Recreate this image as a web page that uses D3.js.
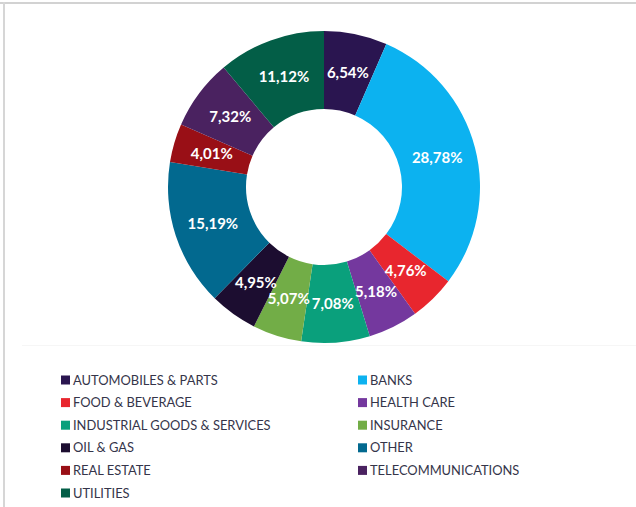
<!DOCTYPE html>
<html>
<head>
<meta charset="utf-8">
<script src="https://cdn.jsdelivr.net/npm/d3@7"></script>
<style>
  html, body { margin: 0; padding: 0; background: #ffffff; }
  svg { display: block; }
</style>
</head>
<body>
<svg id="chart" width="636" height="507"></svg>
<script>
// Sector weights (percent), in clockwise order starting at 12 o'clock
const sectors = [
  "AUTOMOBILES & PARTS", "BANKS", "FOOD & BEVERAGE", "HEALTH CARE",
  "INDUSTRIAL GOODS & SERVICES", "INSURANCE", "OIL & GAS", "OTHER",
  "REAL ESTATE", "TELECOMMUNICATIONS", "UTILITIES"
];
const weights = [6.54, 28.78, 4.76, 5.18, 7.08, 5.07, 4.95, 15.19, 4.01, 7.32, 11.12];
const sectorColors = [
  "#2a1550", "#0cb2f0", "#e8262e", "#74389e",
  "#0aa07c", "#72ad47", "#1c0d30", "#02698f",
  "#990f16", "#4a2260", "#035e47"
];

const svg = d3.select("#chart");
const W = 636, H = 507;

// Frame lines
svg.append("rect").attr("x", 0).attr("y", 2).attr("width", W).attr("height", 2).attr("fill", "#d2d2d2");
svg.append("rect").attr("x", 3).attr("y", 2).attr("width", 2).attr("height", H).attr("fill", "#d6d6d6");
svg.append("line").attr("x1", 22).attr("x2", W).attr("y1", 345.5).attr("y2", 345.5)
  .attr("stroke", "#f6f6f6").attr("stroke-width", 1);

// Donut
const cx = 324, cy = 187, rOuter = 156, rInner = 78;
const data = sectors.map((name, i) => ({ name, value: weights[i], color: sectorColors[i] }));

const pie = d3.pie().value(d => d.value).sort(null);
const arcs = pie(data);
const arc = d3.arc().innerRadius(rInner).outerRadius(rOuter);
const labelArc = d3.arc().innerRadius((rInner + rOuter) / 2).outerRadius((rInner + rOuter) / 2);

const g = svg.append("g").attr("transform", `translate(${cx},${cy})`);
g.selectAll("path.slice")
  .data(arcs)
  .join("path")
  .attr("class", "slice")
  .attr("d", arc)
  .attr("fill", d => d.data.color);

const fmt = v => v.toFixed(2).replace(".", ",") + "%";
g.selectAll("text.val")
  .data(arcs)
  .join("text")
  .attr("class", "val")
  .attr("transform", d => `translate(${labelArc.centroid(d)})`)
  .attr("text-anchor", "middle")
  .attr("dy", "0.36em")
  .attr("font-family", "Lato, 'Open Sans', sans-serif")
  .attr("font-weight", 700)
  .attr("font-size", 15)
  .attr("fill", "#ffffff")
  .text(d => fmt(d.data.value));

// Legend: two columns, filled row by row
const colX = [61, 358];
const rowY = d3.scaleLinear().domain([0, 1]).range([380, 402.6]);
const legend = svg.append("g")
  .selectAll("g")
  .data(data)
  .join("g")
  .attr("transform", (d, i) => `translate(${colX[i % 2]},${rowY(Math.floor(i / 2))})`);

legend.append("rect")
  .attr("x", 0).attr("y", -4.5)
  .attr("width", 9).attr("height", 9)
  .attr("fill", d => d.color);

legend.append("text")
  .attr("x", 12)
  .attr("dy", "0.36em")
  .attr("font-family", "Lato, 'Open Sans', sans-serif")
  .attr("font-size", 12.9)
  .attr("fill", "#35354a")
  .text(d => d.name);
</script>
</body>
</html>
